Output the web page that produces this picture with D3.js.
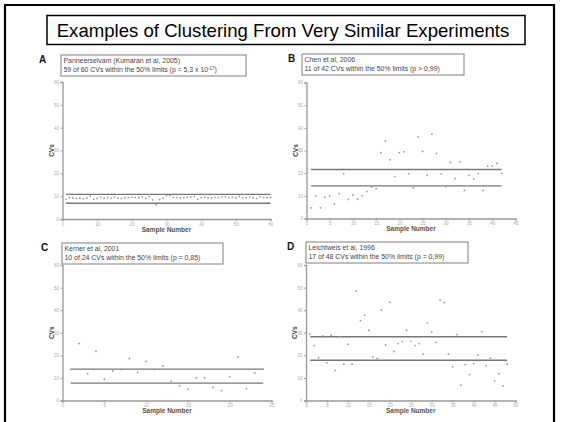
<!DOCTYPE html>
<html>
<head>
<meta charset="utf-8">
<script src="https://cdn.jsdelivr.net/npm/d3@7"></script>
<style>
  body { margin: 0; background: #fff; }
  text { font-family: Arial, "Liberation Sans", sans-serif; }
</style>
</head>
<body>
<svg id="chart" width="565" height="422"></svg>
<script>
const svg = d3.select("#chart");

const title = "Examples of Clustering From Very Similar Experiments";

// panel A: Panneerselvam, 60 samples
const cvsA = [8.6, 9.4, 9.3, 9.0, 9.1, 8.9, 9.2, 10.1, 8.7, 9.0, 9.5, 9.2, 9.4, 9.1, 9.6, 9.2, 9.0, 9.3, 9.4, 9.6,
  9.5, 9.3, 9.6, 9.1, 9.8, 8.4, 6.2, 8.6, 9.2, 10.2, 10.3, 9.5, 9.4, 9.3, 9.4, 9.5, 9.6, 9.8, 8.7, 9.4,
  9.6, 9.3, 9.2, 9.5, 9.4, 9.6, 9.7, 9.4, 9.5, 9.3, 9.9, 9.4, 9.3, 9.6, 9.2, 9.0, 9.7, 9.4, 9.3, 9.5];
const limitsA = [6.9, 10.8];

// panel B: Chen, 42 samples
const cvsB = [4.7, 9.9, 4.7, 9.4, 10.0, 6.3, 11.0, 19.7, 8.4, 10.4, 8.5, 10.1, 11.9, 13.8, 13.2, 29.1, 34.1, 25.9, 18.5, 29.1,
  29.4, 19.7, 13.5, 36.0, 29.6, 19.0, 37.2, 28.7, 19.6, 14.0, 24.7, 17.6, 25.0, 12.4, 19.0, 17.5, 19.9, 12.4, 23.1, 23.1,
  24.3, 19.9];
const limitsB = [14.4, 21.6];

// panel C: Kerner, 24 samples
const cvsC = [13.7, 25.2, 11.9, 21.8, 9.4, 13.1, 13.7, 18.6, 12.4, 17.3, 13.7, 15.3, 8.6, 6.5, 5.0, 10.0, 10.0, 5.8, 4.4, 10.5,
  19.2, 5.3, 12.2, 13.9];
const limitsC = [7.7, 13.9];

// panel D: Leichtweis, 48 samples
const cvsD = [29.5, 24.3, 18.9, 28.6, 16.7, 28.8, 13.3, 28.3, 16.1, 24.9, 16.1, 48.5, 35.4, 37.8, 31.1, 19.3, 18.6, 40.0, 24.6, 43.5,
  21.7, 25.2, 26.1, 31.1, 26.3, 24.3, 25.2, 20.5, 34.4, 30.4, 25.8, 44.4, 43.4, 20.5, 14.9, 29.2, 6.8, 15.9, 11.5, 16.4,
  20.2, 30.5, 15.3, 18.7, 8.6, 11.9, 6.5, 16.1];
const limitsD = [17.8, 28.2];

const yTicks = [0, 10, 20, 30, 40, 50, 60];

const panels = [
  {letter: "A", cvs: cvsA, limits: limitsA, xMax: 60, xStep: 10,
   lines: ["Panneerselvam (Kumaran et al, 2005)", "59 of 60 CVs within the 50% limits (p = 5,3 x 10", "-17", ")"],
   x0: 62.5, x1: 270.5, y0: 219, y1: 82, box: [61, 55, 185, 21], letterPos: [39, 63]},
  {letter: "B", cvs: cvsB, limits: limitsB, xMax: 45, xStep: 5,
   lines: ["Chen et al, 2006", "11 of 42 CVs within the 50% limits (p > 0,99)"],
   x0: 306.5, x1: 515.5, y0: 218.5, y1: 82.5, box: [302, 54, 162, 21], letterPos: [288, 62]},
  {letter: "C", cvs: cvsC, limits: limitsC, xMax: 25, xStep: 5,
   lines: ["Kerner et al, 2001", "10 of 24 CVs within the 50% limits (p = 0,85)"],
   x0: 62.5, x1: 271.5, y0: 400.5, y1: 265, box: [62, 243, 161, 21], letterPos: [41, 251]},
  {letter: "D", cvs: cvsD, limits: limitsD, xMax: 50, xStep: 5,
   lines: ["Leichtweis et al, 1996", "17 of 48 CVs within the 50% limits (p = 0,99)"],
   x0: 306, x1: 515.5, y0: 400.5, y1: 265, box: [306, 242, 162, 21], letterPos: [287, 250]}
];

// outer frame
svg.append("path")
  .attr("d", "M5,422 V5 H554 V422")
  .attr("fill", "none")
  .attr("stroke", "#000")
  .attr("stroke-width", 2.2);

// title box
svg.append("rect")
  .attr("x", 47).attr("y", 15.5)
  .attr("width", 478).attr("height", 29)
  .attr("fill", "#fff")
  .attr("stroke", "#000")
  .attr("stroke-width", 1.5);

svg.append("text")
  .attr("x", 283).attr("y", 36.5)
  .attr("text-anchor", "middle")
  .style("font-size", "18.6px")
  .attr("fill", "#000")
  .text(title);

panels.forEach(drawPanel);

function drawPanel(p) {
  const g = svg.append("g");

  const x = d3.scaleLinear().domain([0, p.xMax]).range([p.x0, p.x1]);
  const y = d3.scaleLinear().domain([0, 60]).range([p.y0, p.y1]);

  const xTicks = d3.range(0, p.xMax + 1, p.xStep);

  // x axis
  const xAxis = g.append("g")
    .attr("transform", "translate(0," + p.y0 + ")")
    .call(d3.axisBottom(x).tickValues(xTicks).tickSize(2).tickPadding(1.5));
  // y axis
  const yAxis = g.append("g")
    .attr("transform", "translate(" + p.x0 + ",0)")
    .call(d3.axisLeft(y).tickValues(yTicks).tickSize(2).tickPadding(1.5));

  [xAxis, yAxis].forEach(a => {
    a.select(".domain").attr("stroke", "#999").attr("stroke-width", 1.3);
    a.selectAll(".tick line").attr("stroke", "#999");
    a.selectAll(".tick text").attr("fill", "#aaa").style("font-size", "4.5px");
  });

  // limit lines
  p.limits.forEach(v => {
    g.append("line")
      .attr("x1", x(1)).attr("x2", x(p.cvs.length))
      .attr("y1", y(v)).attr("y2", y(v))
      .attr("stroke", "#777")
      .attr("stroke-width", 1.4);
  });

  // points
  g.selectAll("circle.pt")
    .data(p.cvs)
    .enter()
    .append("circle")
    .attr("class", "pt")
    .attr("cx", (d, i) => x(i + 1))
    .attr("cy", d => y(d))
    .attr("r", 0.9)
    .attr("fill", "#999");

  // axis titles
  g.append("text")
    .attr("x", (p.x0 + p.x1) / 2)
    .attr("y", p.y0 + 12.5)
    .attr("text-anchor", "middle")
    .style("font-size", "6.5px")
    .style("font-weight", "bold")
    .attr("fill", "#555")
    .text("Sample Number");

  g.append("text")
    .attr("transform", "translate(" + (p.x0 - 9) + "," + ((p.y0 + p.y1) / 2) + ") rotate(-90)")
    .attr("text-anchor", "middle")
    .style("font-size", "6.5px")
    .style("font-weight", "bold")
    .attr("fill", "#444")
    .text("CVs");

  // panel letter
  g.append("text")
    .attr("x", p.letterPos[0]).attr("y", p.letterPos[1])
    .style("font-size", "10px")
    .style("font-weight", "bold")
    .attr("fill", "#111")
    .text(p.letter);

  // legend box
  g.append("rect")
    .attr("x", p.box[0]).attr("y", p.box[1])
    .attr("width", p.box[2]).attr("height", p.box[3])
    .attr("fill", "#fff")
    .attr("stroke", "#8a8a8a")
    .attr("stroke-width", 1.1);

  g.append("text")
    .attr("x", p.box[0] + 2.5).attr("y", p.box[1] + 7.5)
    .style("font-size", "6.9px")
    .attr("fill", "#444")
    .text(p.lines[0]);

  const t2 = g.append("text")
    .attr("x", p.box[0] + 2.5).attr("y", p.box[1] + 17)
    .style("font-size", "6.9px")
    .attr("fill", "#444");
  t2.append("tspan").text(p.lines[1]);
  if (p.lines.length > 2) {
    t2.append("tspan").attr("dy", -2.5).style("font-size", "4.5px").text(p.lines[2]);
    t2.append("tspan").attr("dy", 2.5).text(p.lines[3]);
  }
}
</script>
</body>
</html>
